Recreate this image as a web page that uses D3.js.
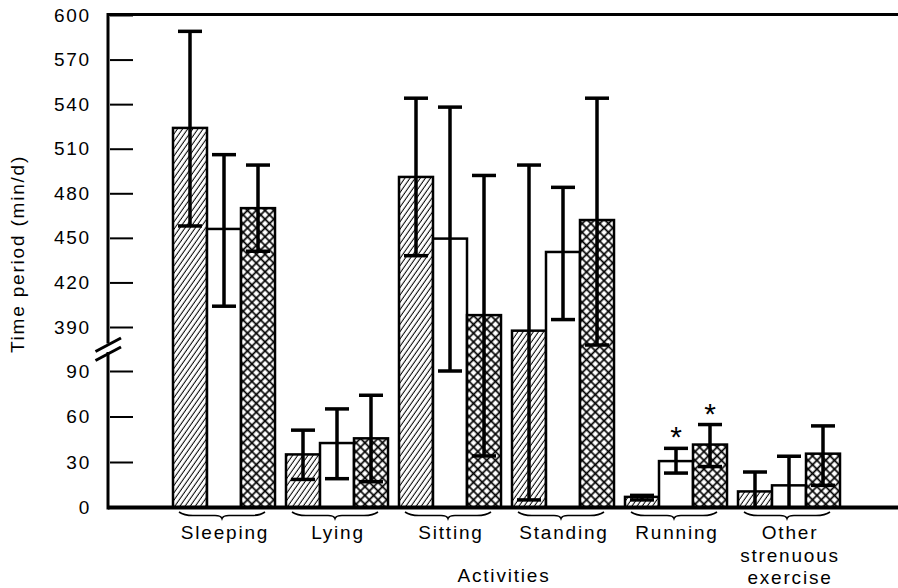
<!DOCTYPE html>
<html>
<head>
<meta charset="utf-8">
<script src="https://cdn.jsdelivr.net/npm/d3@7"></script>
<style>
	body { margin: 0; background: #fff; }
	text { font-family: "Liberation Sans", Arial, Helvetica, sans-serif; fill: #000; }
</style>
</head>
<body>
<div id="chart"></div>
<script>
var categories = ["Sleeping", "Lying", "Sitting", "Standing", "Running", "Other strenuous exercise"];
var categoryLines = [["Sleeping"], ["Lying"], ["Sitting"], ["Standing"], ["Running"], ["Other", "strenuous", "exercise"]];
var series = ["hatched", "open", "cross"];

// bar means (min/d)
var meanHatched = [524, 35, 491, 365, 7, 10.6];
var meanOpen = [456, 42.5, 449.5, 440.5, 30.6, 14.6];
var meanCross = [470, 45.6, 398, 462, 41.5, 35.5];

// error bar ends
var upperHatched = [589, 51, 544, 499, 8, 23.4];
var upperOpen = [506, 65, 538, 484, 39, 33.8];
var upperCross = [499, 74, 492, 544, 54.7, 53.8];
var lowerHatched = [458, 18.5, 438, 5, 5, 0];
var lowerOpen = [404, 19, 90, 395, 22.7, 0];
var lowerCross = [441, 17, 34, 267, 27, 14.6];

// significance stars
var starOpen = [0, 0, 0, 0, 1, 0];
var starCross = [0, 0, 0, 0, 1, 0];

var tickValues = [0, 30, 60, 90, 390, 420, 450, 480, 510, 540, 570, 600];

var W = 898, H = 588;
var axisX = 108, right = 898;

var svg = d3.select("#chart").append("svg")
	.attr("width", W)
	.attr("height", H);

// broken axis: 0-90 and 390-600 share one scale, gap squeezed in between
var y = d3.scaleLinear()
	.domain([0, 90, 390, 600])
	.range([507.5, 371, 327, 15]);

var x0 = d3.scaleBand()
	.domain(categories)
	.range([173, 840])
	.paddingInner(11 / 113)
	.paddingOuter(0);

var x1 = d3.scaleBand()
	.domain(series)
	.range([0, x0.bandwidth()]);

var defs = svg.append("defs");
var hatch = defs.append("pattern")
	.attr("id", "hatch")
	.attr("patternUnits", "userSpaceOnUse")
	.attr("width", 4.2)
	.attr("height", 10)
	.attr("patternTransform", "rotate(35)");
hatch.append("line")
	.attr("x1", 2).attr("y1", 0).attr("x2", 2).attr("y2", 10)
	.attr("stroke", "#000").attr("stroke-width", 1);

var cross = defs.append("pattern")
	.attr("id", "cross")
	.attr("patternUnits", "userSpaceOnUse")
	.attr("width", 6.2)
	.attr("height", 6.2)
	.attr("patternTransform", "rotate(45)");
cross.append("rect").attr("width", 6.2).attr("height", 6.2).attr("fill", "#fff");
cross.append("line")
	.attr("x1", 3.1).attr("y1", 0).attr("x2", 3.1).attr("y2", 6.2)
	.attr("stroke", "#000").attr("stroke-width", 1.7);
cross.append("line")
	.attr("x1", 0).attr("y1", 3.1).attr("x2", 6.2).attr("y2", 3.1)
	.attr("stroke", "#000").attr("stroke-width", 1.7);

var fills = { hatched: "url(#hatch)", open: "#fff", cross: "url(#cross)" };

var rows = categories.map(function (c, i) {
	return {
		cat: c,
		bars: [
			{ s: "hatched", mean: meanHatched[i], hi: upperHatched[i], lo: lowerHatched[i], star: 0 },
			{ s: "open", mean: meanOpen[i], hi: upperOpen[i], lo: lowerOpen[i], star: starOpen[i] },
			{ s: "cross", mean: meanCross[i], hi: upperCross[i], lo: lowerCross[i], star: starCross[i] }
		]
	};
});

var group = svg.selectAll(".grp")
	.data(rows)
	.enter().append("g")
	.attr("class", "grp")
	.attr("transform", function (d) { return "translate(" + x0(d.cat) + ",0)"; });

group.selectAll("rect")
	.data(function (d) { return d.bars; })
	.enter().append("rect")
	.attr("x", function (d) { return x1(d.s); })
	.attr("y", function (d) { return y(d.mean); })
	.attr("width", x1.bandwidth())
	.attr("height", function (d) { return y(0) - y(d.mean); })
	.attr("fill", function (d) { return fills[d.s]; })
	.attr("stroke", "#000")
	.attr("stroke-width", 2.5);

var err = group.selectAll(".err")
	.data(function (d) { return d.bars; })
	.enter().append("g")
	.attr("class", "err")
	.attr("transform", function (d) { return "translate(" + (x1(d.s) + x1.bandwidth() / 2) + ",0)"; });

err.append("line")
	.attr("y1", function (d) { return y(d.hi); })
	.attr("y2", function (d) { return y(d.lo); })
	.attr("stroke", "#000")
	.attr("stroke-width", 3.5);

err.append("line")
	.attr("x1", -12).attr("x2", 12)
	.attr("y1", function (d) { return y(d.hi); })
	.attr("y2", function (d) { return y(d.hi); })
	.attr("stroke", "#000")
	.attr("stroke-width", 3.5);

err.filter(function (d) { return d.lo > 0; }).append("line")
	.attr("x1", -12).attr("x2", 12)
	.attr("y1", function (d) { return y(d.lo); })
	.attr("y2", function (d) { return y(d.lo); })
	.attr("stroke", "#000")
	.attr("stroke-width", 3.5);

err.filter(function (d) { return d.star; }).append("text")
	.attr("y", function (d) { return y(d.hi) - 1; })
	.attr("text-anchor", "middle")
	.style("font-size", "30px")
	.text("*");

// frame and axes
svg.append("line")
	.attr("x1", axisX).attr("x2", right)
	.attr("y1", 14.5).attr("y2", 14.5)
	.attr("stroke", "#000").attr("stroke-width", 3);

svg.append("line")
	.attr("x1", axisX).attr("x2", right)
	.attr("y1", y(0)).attr("y2", y(0))
	.attr("stroke", "#000").attr("stroke-width", 4);

var breakY = (y(90) + y(390)) / 2;

svg.append("line")
	.attr("x1", axisX).attr("x2", axisX)
	.attr("y1", 13).attr("y2", breakY - 5.5)
	.attr("stroke", "#000").attr("stroke-width", 3);
svg.append("line")
	.attr("x1", axisX).attr("x2", axisX)
	.attr("y1", breakY + 3).attr("y2", y(0) + 2)
	.attr("stroke", "#000").attr("stroke-width", 3);

[-4.5, 4.5].forEach(function (off) {
	svg.append("line")
		.attr("x1", axisX - 12.5).attr("y1", breakY + off + 7)
		.attr("x2", axisX + 13).attr("y2", breakY + off - 6.5)
		.attr("stroke", "#000").attr("stroke-width", 3);
});

var yAxis = d3.axisLeft(y)
	.tickValues(tickValues)
	.tickSize(-25)
	.tickPadding(17)
	.tickFormat(d3.format("d"));

var ya = svg.append("g")
	.attr("transform", "translate(" + axisX + ",0)")
	.call(yAxis);
ya.select(".domain").remove();
ya.selectAll(".tick line")
	.attr("stroke", "#000")
	.attr("stroke-width", 2)
	.attr("x1", 2);
ya.selectAll(".tick text")
	.attr("fill", "#000")
	.style("font-size", "19px")
	.style("letter-spacing", "1.8px")
	.style("font-family", "'Liberation Sans', Arial, sans-serif");

// braces under each group
function brace(x0p, x1p, yb) {
	var cx = (x0p + x1p) / 2;
	return "M" + x0p + "," + yb +
		" Q" + (x0p + 5) + "," + (yb + 3.5) + " " + (x0p + 14) + "," + (yb + 3.5) +
		" L" + (cx - 7) + "," + (yb + 3.5) +
		" Q" + (cx - 1) + "," + (yb + 3.5) + " " + cx + "," + (yb + 6.5) +
		" Q" + (cx + 1) + "," + (yb + 3.5) + " " + (cx + 7) + "," + (yb + 3.5) +
		" L" + (x1p - 14) + "," + (yb + 3.5) +
		" Q" + (x1p - 5) + "," + (yb + 3.5) + " " + x1p + "," + yb;
}

svg.selectAll(".brace")
	.data(categories)
	.enter().append("path")
	.attr("class", "brace")
	.attr("d", function (d) {
		var c = x0(d) + x0.bandwidth() / 2 - 2;
		return brace(c - 43, c + 43, 512);
	})
	.attr("fill", "none")
	.attr("stroke", "#000")
	.attr("stroke-width", 1.6);

var labels = svg.selectAll(".cat")
	.data(categories)
	.enter().append("text")
	.attr("class", "cat")
	.attr("text-anchor", "middle")
	.style("font-size", "19px")
	.style("letter-spacing", "1.8px")
	.attr("transform", function (d) { return "translate(" + (x0(d) + x0.bandwidth() / 2 + 1) + ",539)"; });

labels.selectAll("tspan")
	.data(function (d, i) { return categoryLines[i]; })
	.enter().append("tspan")
	.attr("x", 0)
	.attr("dy", function (d, i) { return i ? 22.5 : 0; })
	.text(function (d) { return d; });

svg.append("text")
	.attr("x", (axisX + right) / 2 + 1)
	.attr("y", 582)
	.attr("text-anchor", "middle")
	.style("font-size", "19px")
	.style("letter-spacing", "1.8px")
	.text("Activities");

svg.append("text")
	.attr("transform", "translate(24,254) rotate(-90)")
	.attr("text-anchor", "middle")
	.style("font-size", "19px")
	.style("letter-spacing", "1.8px")
	.text("Time period (min/d)");
</script>
</body>
</html>
